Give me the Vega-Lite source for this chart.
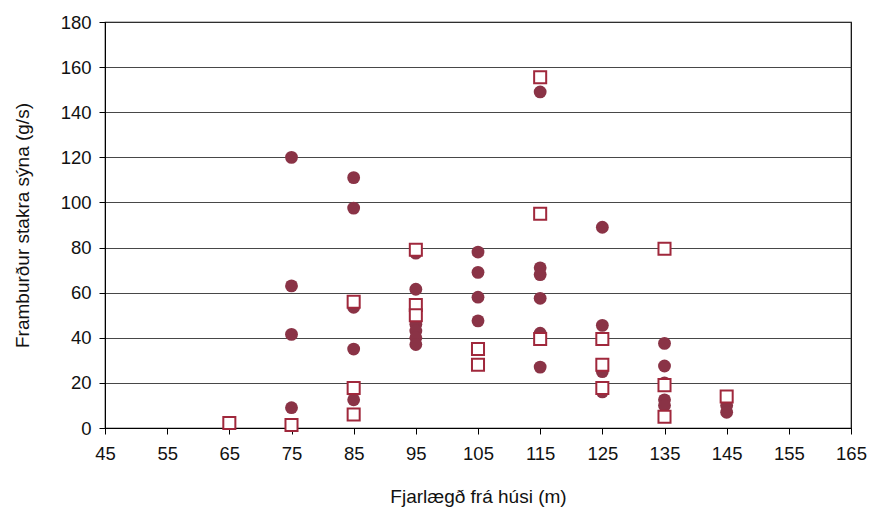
{
  "$schema": "https://vega.github.io/schema/vega-lite/v6.json",
  "width": 746,
  "height": 406,
  "autosize": "none",
  "padding": {"left": 105, "top": 22, "right": 20, "bottom": 83},
  "background": "white",
  "config": {
    "view": {"stroke": "#000000", "strokeWidth": 1.2},
    "font": "Liberation Sans",
    "axis": {
      "labelFont": "Liberation Sans",
      "titleFont": "Liberation Sans",
      "labelFontSize": 18.5,
      "titleFontSize": 19,
      "titleFontWeight": "normal",
      "labelColor": "#111111",
      "titleColor": "#111111",
      "domainColor": "#000000",
      "tickColor": "#000000",
      "tickSize": 6
    }
  },
  "data": {
    "values": [
      {"x": 75, "y": 120, "s": "circle"},
      {"x": 75, "y": 63, "s": "circle"},
      {"x": 75, "y": 41.5, "s": "circle"},
      {"x": 75, "y": 9, "s": "circle"},
      {"x": 85, "y": 111, "s": "circle"},
      {"x": 85, "y": 97.5, "s": "circle"},
      {"x": 85, "y": 53.5, "s": "circle"},
      {"x": 85, "y": 35, "s": "circle"},
      {"x": 85, "y": 12.5, "s": "circle"},
      {"x": 95, "y": 77.5, "s": "circle"},
      {"x": 95, "y": 61.5, "s": "circle"},
      {"x": 95, "y": 46, "s": "circle"},
      {"x": 95, "y": 43, "s": "circle"},
      {"x": 95, "y": 40, "s": "circle"},
      {"x": 95, "y": 37, "s": "circle"},
      {"x": 105, "y": 78, "s": "circle"},
      {"x": 105, "y": 69, "s": "circle"},
      {"x": 105, "y": 58, "s": "circle"},
      {"x": 105, "y": 47.5, "s": "circle"},
      {"x": 115, "y": 149, "s": "circle"},
      {"x": 115, "y": 71, "s": "circle"},
      {"x": 115, "y": 68, "s": "circle"},
      {"x": 115, "y": 57.5, "s": "circle"},
      {"x": 115, "y": 42, "s": "circle"},
      {"x": 115, "y": 27, "s": "circle"},
      {"x": 125, "y": 89, "s": "circle"},
      {"x": 125, "y": 45.5, "s": "circle"},
      {"x": 125, "y": 25, "s": "circle"},
      {"x": 125, "y": 16, "s": "circle"},
      {"x": 135, "y": 37.5, "s": "circle"},
      {"x": 135, "y": 27.5, "s": "circle"},
      {"x": 135, "y": 20, "s": "circle"},
      {"x": 135, "y": 12.5, "s": "circle"},
      {"x": 135, "y": 10, "s": "circle"},
      {"x": 145, "y": 10, "s": "circle"},
      {"x": 145, "y": 7, "s": "circle"},
      {"x": 65, "y": 2.2, "s": "square"},
      {"x": 75, "y": 1.3, "s": "square"},
      {"x": 85, "y": 56, "s": "square"},
      {"x": 85, "y": 17.7, "s": "square"},
      {"x": 85, "y": 6, "s": "square"},
      {"x": 95, "y": 79, "s": "square"},
      {"x": 95, "y": 54.5, "s": "square"},
      {"x": 95, "y": 50, "s": "square"},
      {"x": 105, "y": 35, "s": "square"},
      {"x": 105, "y": 28, "s": "square"},
      {"x": 115, "y": 155.5, "s": "square"},
      {"x": 115, "y": 95, "s": "square"},
      {"x": 115, "y": 39.5, "s": "square"},
      {"x": 125, "y": 39.5, "s": "square"},
      {"x": 125, "y": 28, "s": "square"},
      {"x": 125, "y": 17.7, "s": "square"},
      {"x": 135, "y": 79.5, "s": "square"},
      {"x": 135, "y": 19, "s": "square"},
      {"x": 135, "y": 5, "s": "square"},
      {"x": 145, "y": 14, "s": "square"}
    ]
  },
  "encoding": {
    "x": {
      "field": "x",
      "type": "quantitative",
      "scale": {"domain": [45, 165], "nice": false, "zero": false},
      "axis": {
        "values": [45, 55, 65, 75, 85, 95, 105, 115, 125, 135, 145, 155, 165],
        "grid": false,
        "title": "Fjarlægð frá húsi (m)",
        "labelFlush": false,
        "labelOverlap": false,
        "labelPadding": 10,
        "titlePadding": 25
      }
    },
    "y": {
      "field": "y",
      "type": "quantitative",
      "scale": {"domain": [0, 180], "nice": false},
      "axis": {
        "values": [0, 20, 40, 60, 80, 100, 120, 140, 160, 180],
        "grid": true,
        "gridColor": "#333333",
        "gridOpacity": 0.9,
        "gridWidth": 1,
        "title": "Framburður stakra sýna (g/s)",
        "labelFlush": false,
        "labelOverlap": false,
        "labelPadding": 8,
        "titlePadding": 28
      }
    }
  },
  "layer": [
    {
      "transform": [{"filter": "datum.s === 'circle'"}],
      "mark": {"type": "point", "shape": "circle", "filled": true, "color": "#8a3346", "opacity": 1, "size": 165}
    },
    {
      "transform": [{"filter": "datum.s === 'square'"}],
      "mark": {"type": "point", "shape": "square", "filled": true, "fill": "#ffffff", "stroke": "#a0283c", "strokeWidth": 2, "opacity": 1, "size": 145}
    }
  ]
}
